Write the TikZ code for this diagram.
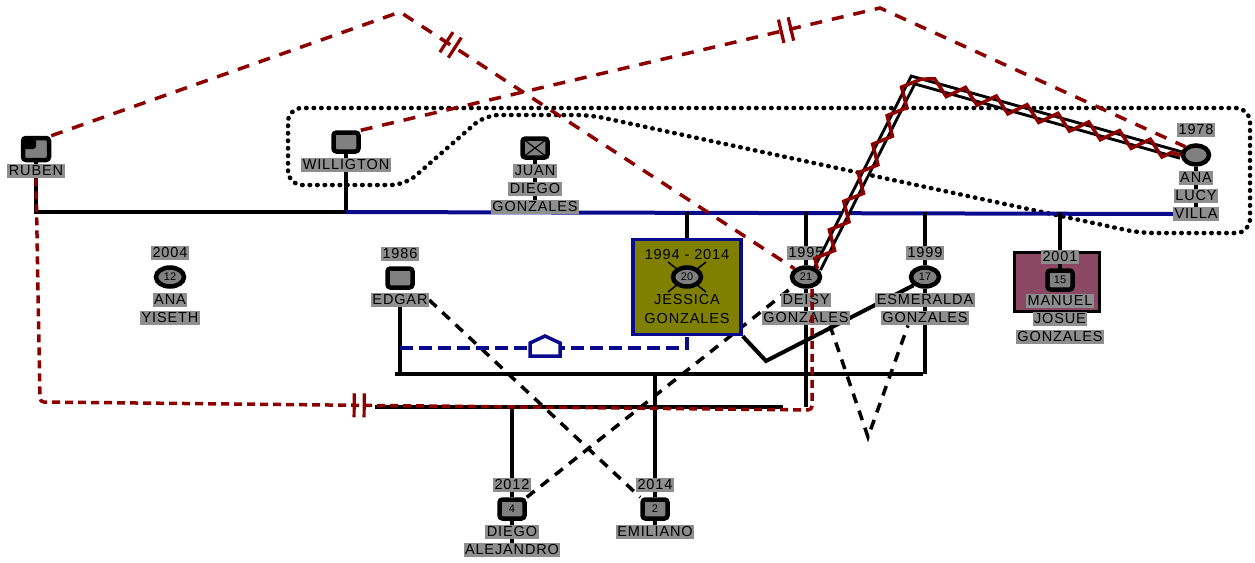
\documentclass[tikz,border=0pt]{standalone}
\usepackage{fontspec}
\setmainfont{Liberation Sans}
\newfontfamily\lblfont[LetterSpace=6]{Liberation Sans}
\usepackage{tikz}
\usetikzlibrary{shapes,positioning,calc,decorations.pathmorphing,decorations.markings}

\definecolor{gmred}{RGB}{140,0,0}
\definecolor{gmblue}{RGB}{10,10,140}
\definecolor{gmgray}{RGB}{128,128,128}
\definecolor{lblgray}{RGB}{142,142,142}
\definecolor{gmolive}{RGB}{128,128,0}
\definecolor{gmmauve}{RGB}{138,72,98}

\pgfdeclarelayer{back}
\pgfsetlayers{back,main}

\tikzstyle{male} = [rectangle, rounded corners=3pt, draw=black, line width=4.5pt, fill=gmgray, minimum width=25pt, minimum height=19pt, inner sep=0pt, font=\fontsize{11}{11}\selectfont]
\tikzstyle{female} = [ellipse, draw=black, line width=4.5pt, fill=gmgray, minimum width=28pt, minimum height=19pt, inner sep=0pt, font=\fontsize{11}{11}\selectfont]
\tikzstyle{lbl} = [fill=lblgray, inner sep=1.5pt, text height=10.5pt, text depth=1pt, font=\lblfont\fontsize{14.5}{15}\selectfont]
\tikzstyle{yrs} = [inner sep=1pt, text height=10.5pt, text depth=1pt, font=\lblfont\fontsize{14.5}{15}\selectfont]
\tikzstyle{tie} = [draw, line width=4pt]
\tikzstyle{union} = [draw=gmblue, line width=4pt]
\tikzstyle{conflict} = [draw=gmred, line width=3.5pt, dash pattern=on 12pt off 10pt]
\tikzstyle{cutoff} = [draw=gmred, line width=3.5pt, dash pattern=on 8pt off 5pt]
\tikzstyle{distant} = [draw, line width=3.5pt, dash pattern=on 10pt off 8pt]
\tikzstyle{living} = [draw=gmblue, line width=3.5pt, dash pattern=on 13pt off 6pt]
\tikzstyle{household} = [draw, line width=4.5pt, line cap=round, dash pattern=on 0.5pt off 7pt]
\tikzset{divorce/.style={postaction={decorate, decoration={markings, mark=at position #1 with {\draw[solid, gmred, line width=3.2pt] (-5pt,-12pt) -- (-5pt,12pt) (5pt,-12pt) -- (5pt,12pt);}}}}}

\begin{document}
\begin{tikzpicture}[x=1pt, y=1pt]

\useasboundingbox (0,0) rectangle (1255,-562);

% first generation
\node (ruben0) [male, minimum width=26pt, minimum height=22pt, path picture={\fill[black] (path picture bounding box.north west) rectangle (path picture bounding box.center);}] at (36,-149) {};
\node (ruben1) [lbl, below of=ruben0, node distance=22pt] {RUBEN};

\node (will0) [male] at (346,-142) {};
\node (will1) [lbl, below of=will0, node distance=23pt] {WILLIGTON};

\node (juan0) [male, path picture={\draw[line width=1.2pt] (path picture bounding box.north west) -- (path picture bounding box.south east) (path picture bounding box.south west) -- (path picture bounding box.north east);}] at (535,-148) {};
\node (juan1) [lbl, below of=juan0, node distance=23pt] {JUAN};
\node (juan2) [lbl, below of=juan1, node distance=18pt] {DIEGO};
\node (juan3) [lbl, below of=juan2, node distance=18pt] {GONZALES};

\node (ana0) [female, minimum width=26pt, minimum height=19pt] at (1196,-155) {};
\node (ana1) [lbl, above of=ana0, node distance=25pt] {1978};
\node (ana2) [lbl, below of=ana0, node distance=23pt] {ANA};
\node (ana3) [lbl, below of=ana2, node distance=18pt] {LUCY};
\node (ana4) [lbl, below of=ana3, node distance=18pt] {VILLA};

% second generation
\node (yis0) [female] at (170,-277) {12};
\node (yis1) [lbl, above of=yis0, node distance=24pt] {2004};
\node (yis2) [lbl, below of=yis0, node distance=23pt] {ANA};
\node (yis3) [lbl, below of=yis2, node distance=18pt] {YISETH};

\node (edgar0) [male] at (400,-278) {};
\node (edgar1) [lbl, above of=edgar0, node distance=24pt] {1986};
\node (edgar2) [lbl, below of=edgar0, node distance=22pt] {EDGAR};

\node (jess) [rectangle, draw=gmblue, line width=3.5pt, fill=gmolive, minimum width=108pt, minimum height=95pt] at (687,-287) {};
\coordinate (jessc) at (687,-277);
\draw[line width=1.5pt] (jessc) ++(-19,15) -- ++(38,-30) (jessc) ++(19,15) -- ++(-38,-30);
\node (jess0) [female] at (jessc) {20};
\node (jess1) [yrs, above of=jess0, node distance=22pt] {1994 - 2014};
\node (jess2) [yrs, below of=jess0, node distance=23pt] {JESSICA};
\node (jess3) [yrs, below of=jess2, node distance=19pt] {GONZALES};

\node (deisy0) [female] at (806,-277) {21};
\node (deisy1) [lbl, above of=deisy0, node distance=24pt] {1995};
\node (deisy2) [lbl, below of=deisy0, node distance=23pt] {DEISY};
\node (deisy3) [lbl, below of=deisy2, node distance=18pt] {GONZALES};

\node (esm0) [female] at (925,-277) {17};
\node (esm1) [lbl, above of=esm0, node distance=24pt] {1999};
\node (esm2) [lbl, below of=esm0, node distance=23pt] {ESMERALDA};
\node (esm3) [lbl, below of=esm2, node distance=18pt] {GONZALES};

\node (man) [rectangle, draw=black, line width=3.5pt, fill=gmmauve, minimum width=85pt, minimum height=59pt] at (1057,-282) {};
\path [tie] (man.north -| 1060,0) -- ++(0,-25);
\node (man0) [male] at (1060,-280) {15};
\node (man1) [lbl, above of=man0, node distance=23pt] {2001};
\node (man2) [lbl, below of=man0, node distance=21pt] {MANUEL};
\node (man3) [lbl, below of=man2, node distance=18pt] {JOSUE};
\node (man4) [lbl, below of=man3, node distance=18pt] {GONZALES};

% third generation
\node (diego0) [male] at (512,-509) {4};
\node (diego1) [lbl, above of=diego0, node distance=24pt] {2012};
\node (diego2) [lbl, below of=diego0, node distance=23pt] {DIEGO};
\node (diego3) [lbl, below of=diego2, node distance=18pt] {ALEJANDRO};

\node (emi0) [male] at (655,-509) {2};
\node (emi1) [lbl, above of=emi0, node distance=24pt] {2014};
\node (emi2) [lbl, below of=emi0, node distance=23pt] {EMILIANO};

\coordinate (sib1) at (395,-374);
\coordinate (sib2) at (923,-374);
\coordinate (sib3) at (375,-407);
\coordinate (sib4) at (783,-407);
\coordinate (house) at (545,-348);
\coordinate (kink) at (766,-361);
\coordinate (vee) at (868,-437);
\coordinate (peak1) at (400,-12);
\coordinate (peak2) at (880,-8);
\coordinate (bend) at (913,-80);
\coordinate (cut1) at (40,-402);
\coordinate (cut2) at (812,-410);

\begin{pgfonlayer}{back}
% household
\path [household, rounded corners=14pt] (288,-185) -- (288,-108) -- (1250,-108) -- (1250,-233) -- (1140,-233) -- (590,-115) -- (485,-115) -- (405,-185) -- cycle;

\path [tie] (ruben0) -- (ruben1);
\path [tie] (ruben1.south) -- (ruben1 |- 0,-212) -- (will1 |- 0,-212) -- (will1.south);
\path [tie] (will0) -- (will1);
\path [union] (will1 |- 0,-212) -- (ana4.west);
\path [tie] (juan0) -- (juan1) -- (juan2) -- (juan3);
\path [tie] (ana0) -- (ana2) -- (ana3) -- (ana4);

\path [tie] (jess.north |- 0,-212) -- (jess.north);
\path [tie] (deisy0 |- 0,-212) -- (deisy1) -- (deisy0) -- (deisy2) -- (deisy3) -- (deisy3 |- sib3);
\path [tie] (esm0 |- 0,-212) -- (esm1) -- (esm0) -- (esm2) -- (esm3) -- (esm3 |- sib1);
\path [tie] (man0 |- 0,-212) -- (man0 |- man.north);

\path [tie] (edgar2.south) -- (edgar2 |- sib1);
\path [tie] (sib1) -- (sib2);
\path [tie] (emi0 |- sib1) -- (emi1);
\path [tie] (sib3) -- (sib4);
\path [tie] (diego0 |- sib3) -- (diego1);
\path [tie] (diego1) -- (diego0) -- (diego2) -- (diego3);
\path [tie] (emi1) -- (emi0) -- (emi2);

\path [tie] (jess.south east) -- (kink) -- (esm0.south west);

\path [distant] (edgar2.east) -- (emi0.north west);
\path [distant] (diego0.north east) -- (deisy0.south west);
\path [distant] ($(deisy3.south)+(24,0)$) -- (vee) -- ($(esm3.south)+(-17,0)$);

\path [living] (edgar2 |- house) -- (jess.south |- house) -- (jess.south);
\draw [gmblue, line width=3.5pt, fill=white] (house) ++(-15,-8) -- ++(0,13) -- ++(15,7) -- ++(15,-7) -- ++(0,-13) -- cycle;
\end{pgfonlayer}

% conflict and cut-off lines
\path [conflict, divorce=0.512] (ruben0.north east) -- (peak1) -- (deisy0.north west);
\path [conflict, divorce=0.503] (will0.north east) -- (peak2) -- (ana0.north west);
\path [cutoff, divorce=0.486, rounded corners=4pt] (ruben1.south) -- (cut1) -- (cut2) -- (cut2 |- deisy0.south);

% hostile tie
\draw [line width=3pt, double distance=3.5pt] (deisy0.north east) -- (bend) -- (ana0.west);
\draw [gmred, line width=3.5pt, decorate, decoration={zigzag, segment length=32pt, amplitude=7pt}] (deisy0.north east) -- (bend) -- (ana0.west);

\end{tikzpicture}
\end{document}
